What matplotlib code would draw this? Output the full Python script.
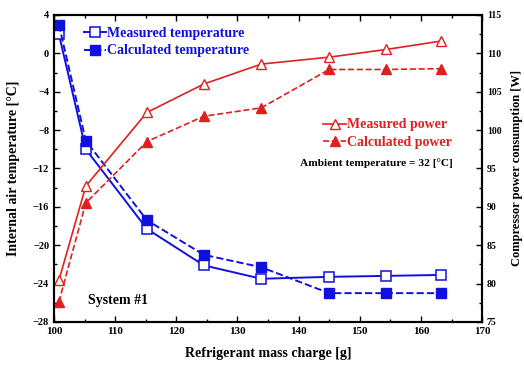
import matplotlib
matplotlib.use('Agg')
import matplotlib.pyplot as plt
from matplotlib.ticker import MultipleLocator

plt.rcParams['font.family'] = ['Liberation Serif', 'DejaVu Serif']
plt.rcParams['font.weight'] = 'bold'

# refrigerant charge [g]
charge = [100.8, 105.2, 115.2, 124.5, 133.9, 145.0, 154.3, 163.3]

# internal air temperature [C]
temp_measured = [2.0, -10.0, -18.3, -22.1, -23.5, -23.3, -23.2, -23.1]
temp_calculated = [3.0, -9.1, -17.4, -21.0, -22.3, -25.0, -25.0, -25.0]

# compressor power [W]
power_measured = [80.4, 92.7, 102.3, 106.0, 108.6, 109.5, 110.5, 111.6]
power_calculated = [77.6, 90.5, 98.5, 101.8, 102.9, 107.9, 107.9, 108.0]

blue = '#1010e0'
red = '#e02020'

fig = plt.figure(figsize=(5.24, 3.65), dpi=100)
ax = fig.add_axes([0.103, 0.118, 0.817, 0.841])
ax2 = ax.twinx()

ax.plot(charge, temp_measured, '-', color=blue, lw=1.4, marker='s', ms=7,
        mfc='white', mec=blue, mew=1.1, label='Measured temperature')
ax.plot(charge, temp_calculated, '--', color=blue, lw=1.4, marker='s', ms=7,
        mfc=blue, mec=blue, label='Calculated temperature')

ax2.plot(charge, power_measured, '-', color=red, lw=1.2, marker='^', ms=7,
         mfc='white', mec=red, mew=1.0, label='Measured power')
ax2.plot(charge, power_calculated, '--', color=red, lw=1.2, marker='^', ms=7,
         mfc=red, mec=red, label='Calculated power')

ax.set_xlim(100, 170)
ax.set_ylim(-28, 4)
ax2.set_ylim(75, 115)

ax.xaxis.set_major_locator(MultipleLocator(10))
ax.xaxis.set_minor_locator(MultipleLocator(5))
ax.yaxis.set_major_locator(MultipleLocator(4))
ax.yaxis.set_minor_locator(MultipleLocator(2))
ax2.yaxis.set_major_locator(MultipleLocator(5))
ax2.yaxis.set_minor_locator(MultipleLocator(2.5))

ax.tick_params(which='both', direction='in', top=True, width=1.0)
ax.tick_params(axis='x', labelsize=8)
ax.tick_params(axis='y', labelsize=7.5)
ax.tick_params(which='major', length=4)
ax.tick_params(which='minor', length=2)
ax2.tick_params(which='both', direction='in', labelsize=7, width=1.0)
ax2.tick_params(which='major', length=4)
ax2.tick_params(which='minor', length=2)
ax.tick_params(axis='y', which='both', right=False)

for a in (ax, ax2):
    for s in a.spines.values():
        s.set_linewidth(1.5)

ax.set_xlabel('Refrigerant mass charge [g]', fontsize=10, fontweight='bold', labelpad=8)
ax.set_ylabel('Internal air temperature [°C]', fontsize=10, fontweight='bold', labelpad=9)
ax2.set_ylabel('Compressor power consumption [W]', fontsize=9, fontweight='bold', labelpad=7)

leg1 = ax.legend(loc='upper left', bbox_to_anchor=(0.05, 0.987), frameon=False,
                 fontsize=10, handlelength=1.6, handletextpad=0.1,
                 labelspacing=0.3, borderaxespad=0.2)
for t in leg1.get_texts():
    t.set_color(blue)

leg2 = ax2.legend(loc='upper left', bbox_to_anchor=(0.61, 0.69), frameon=False,
                  fontsize=10, handlelength=1.6, handletextpad=0.1,
                  labelspacing=0.3, borderaxespad=0.2)
for t in leg2.get_texts():
    t.set_color(red)

ax.text(0.575, 0.518, 'Ambient temperature = 32 [°C]', transform=ax.transAxes,
        fontsize=8.2, fontweight='bold', color='black', va='center')
ax.text(0.08, 0.06, 'System #1', transform=ax.transAxes,
        fontsize=10, fontweight='bold', color='black')

fig.savefig('out.png', dpi=100)
